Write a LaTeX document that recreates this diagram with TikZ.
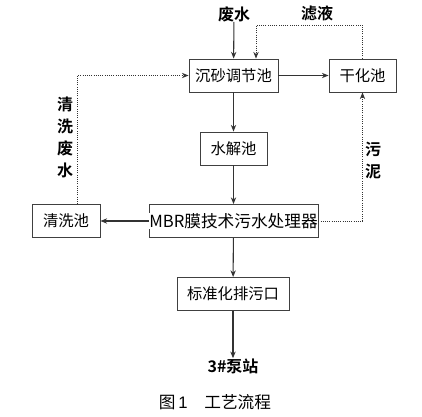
\documentclass[tikz,border=0pt]{standalone}
\usepackage{fontspec}
\setmainfont{Liberation Sans}
\newfontfamily\cjk{Noto Sans CJK SC}
\newfontfamily\cjkbf{Noto Sans CJK SC Bold}
\usetikzlibrary{arrows.meta}

\tikzset{
  proc/.style={draw=black!75, line width=0.7pt, minimum height=24.75pt,
               inner sep=1pt, font=\cjk\fontsize{11.5}{13}\selectfont},
  flow/.style={draw=black!80, line width=0.8pt, -{Stealth[length=5pt,width=4pt]}},
  back/.style={draw=black!80, line width=0.65pt, densely dotted, -{Stealth[length=5pt,width=4pt]}},
  tag/.style={font=\cjkbf\fontsize{12}{16.5}\selectfont, align=center, inner sep=0pt}
}

\begin{document}
\begin{tikzpicture}[x=0.75pt, y=-0.75pt]
\useasboundingbox (0,0) rectangle (422,417);
% boxes
\node[proc, minimum width=66.75pt] (sand) at (233.5,75.5) {沉砂调节池};
\node[proc, minimum width=50.25pt] (dry)  at (362.5,75.5) {干化池};
\node[proc, minimum width=50.25pt] (hydro) at (233.5,148.5) {水解池};
\node[proc, minimum width=126.75pt] (mbr) at (233.5,221) {};
\node[fill=white, inner sep=0.3pt, font=\cjk\fontsize{12.5}{14}\selectfont] (mbrtext) at (mbr) {MBR膜技术污水处理器};
\node[proc, minimum width=51pt] (wash) at (66,221) {清洗池};
\node[proc, minimum width=84pt] (outlet) at (233,294) {标准化排污口};
% free ends and labels
\node[tag] (inflow) at (234,14) {废水};
\node[tag] (filtrate) at (317,13) {滤液};
\node[tag] (washwater) at (65,137.5) {清\\洗\\废\\水};
\node[tag] (sludge) at (373,161) {污\\泥};
\node[tag] (station) at (233,366) {3\#泵站};
\coordinate (topy) at (0,25);
\coordinate (retin) at (256,0);
% main line
\draw[flow] (inflow) -- (sand);
\draw[flow] (sand) -- (dry);
\draw[flow] (sand) -- (hydro);
\draw[flow] (hydro) -- (mbr);
\draw[flow] (mbrtext) -- (wash);
\draw[flow] (mbr) -- (outlet);
\draw[flow] (outlet) -- (station);
% returns
\draw[back] (dry.north) |- (retin |- topy) -- (retin |- sand.north);
\draw[back] ([xshift=8.25pt]wash.north) |- (sand.west);
\draw[back] (mbrtext.east) -| (dry.south);
% caption
\node[font=\cjk\fontsize{12.5}{14}\selectfont] (caption) at (215,402) {图\,{\rmfamily 1}\quad 工艺流程};
\end{tikzpicture}
\end{document}
